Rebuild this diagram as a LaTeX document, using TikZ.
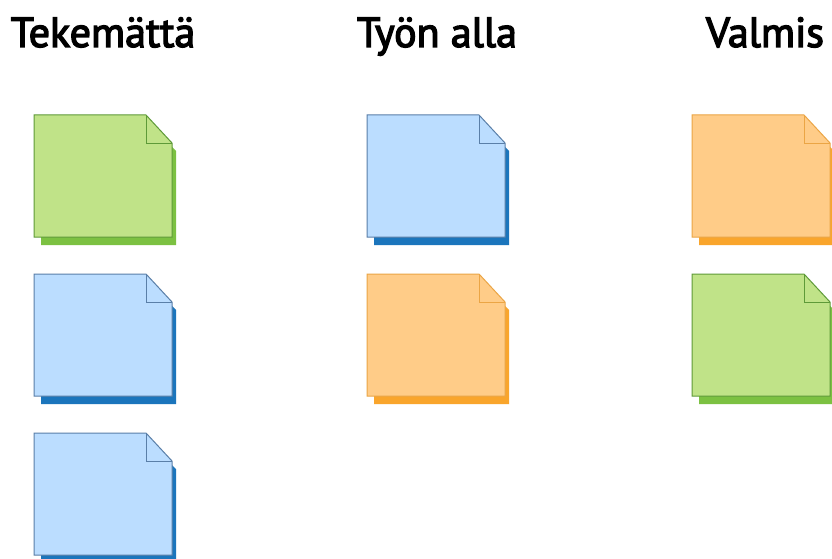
\documentclass[tikz,border=0pt]{standalone}
\usepackage{fontspec}
\setmainfont{PT Sans}
\newfontfamily\headfont[FakeBold=3.2]{PT Sans}
\definecolor{gfront}{HTML}{C0E388}
\definecolor{gline}{HTML}{5E9A38}
\definecolor{gshadow}{HTML}{7CC142}
\definecolor{bfront}{HTML}{BBDDFF}
\definecolor{bline}{HTML}{5A7FA8}
\definecolor{bshadow}{HTML}{1B75BC}
\definecolor{ofront}{HTML}{FFCC88}
\definecolor{oline}{HTML}{EBA545}
\definecolor{oshadow}{HTML}{F9A52C}
\tikzset{
  heading/.style={anchor=base, font=\headfont\fontsize{42}{46}\selectfont, text=black, inner sep=0pt},
  notebody/.style={line width=1pt, line join=miter},
}
\newcommand\stickynote[5]{%
  \begin{scope}[shift={(#1,#2)}]
    \fill[#5] (7,32) -- (138,32) -- (142,36) -- (142,130) -- (7,130) -- cycle;
    \draw[notebody, fill=#3, draw=#4] (0,0) -- (112,0) -- (138,28) -- (138,122) -- (0,122) -- cycle;
    \draw[notebody, draw=#4] (112,0) -- (112,28) -- (138,28);
  \end{scope}}
\begin{document}
\begin{tikzpicture}[x=1pt,y=-1pt]
  \useasboundingbox[fill=white] (0,0) rectangle (832,559);
  \node[heading] (h1) at (103,47) {Tekemättä};
  \node[heading] (h2) at (437,47) {Työn alla};
  \node[heading] (h3) at (765,47) {Valmis};
  \stickynote{34}{115}{gfront}{gline}{gshadow}
  \stickynote{34}{274}{bfront}{bline}{bshadow}
  \stickynote{34}{433}{bfront}{bline}{bshadow}
  \stickynote{367}{115}{bfront}{bline}{bshadow}
  \stickynote{367}{274}{ofront}{oline}{oshadow}
  \stickynote{692}{115}{ofront}{oline}{oshadow}
  \stickynote{692}{274}{gfront}{gline}{gshadow}
\end{tikzpicture}
\end{document}
